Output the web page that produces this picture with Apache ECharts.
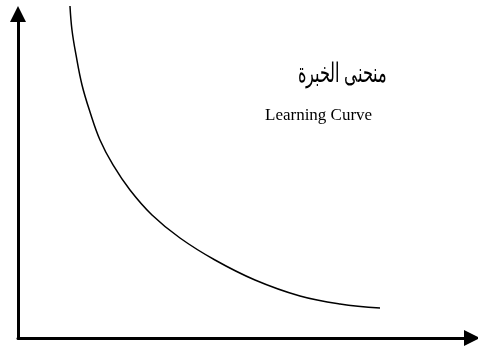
<!DOCTYPE html>
<html>
<head>
<meta charset="utf-8">
<script src="https://cdn.jsdelivr.net/npm/echarts@6/dist/echarts.min.js"></script>
<style>
  html, body { margin: 0; padding: 0; background: #fff; }
  #main { width: 478px; height: 356px; }
</style>
</head>
<body>
<div id="main"></div>
<script>
/*منحنى الخبرة - curve points (0..100 units)*/
var curveX = [11.45, 11.89, 12.78, 14.1, 15.86, 18.06, 20.93, 24.67, 29.52, 35.68, 43.39, 52.2, 62.11, 70.93, 79.74];
var curveY = [102.47, 95.06, 87.35, 78.09, 69.75, 61.11, 53.4, 45.68, 37.96, 30.86, 24.07, 17.9, 12.96, 10.49, 9.26];
var titleAr = 'منحنى الخبرة';
var titleEn = 'Learning Curve';

var chart = echarts.init(document.getElementById('main'));

var pts = [];
for (var i = 0; i < curveX.length; i++) {
    pts.push([curveX[i], curveY[i]]);
}

/*坐标轴只保留带箭头的轴线*/
var axisCommon = {
    type: 'value',
    min: 0,
    max: 100,
    axisLine: {
        show: true,
        symbol: ['none', 'triangle'],
        symbolSize: [16, 16],
        lineStyle: { color: '#000', width: 3 }
    },
    axisTick: { show: false },
    axisLabel: { show: false },
    splitLine: { show: false }
};

chart.setOption({
    animation: false,
    backgroundColor: '#fff',
    grid: { left: 18, right: 6, top: 14, bottom: 18 },
    xAxis: axisCommon,
    yAxis: axisCommon,
    graphic: [
        {
            type: 'text',
            left: 298,
            top: 61,
            scaleX: 0.6,
            style: { text: titleAr, font: '27px "Liberation Serif", "DejaVu Serif", serif', fill: '#000' }
        },
        {
            type: 'text',
            left: 265,
            top: 107,
            style: { text: titleEn, font: '17px "Liberation Serif", serif', fill: '#000' }
        }
    ],
    series: [{
        type: 'line',
        data: pts,
        smooth: 0.4,
        showSymbol: false,
        clip: false,
        lineStyle: { color: '#000', width: 1.5 }
    }]
});
</script>
</body>
</html>
